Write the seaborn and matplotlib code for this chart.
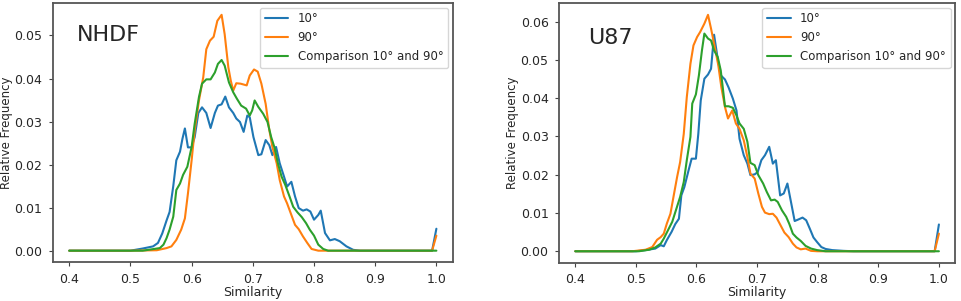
import numpy as np
import pandas as pd
import matplotlib
matplotlib.use("Agg")
import matplotlib.pyplot as plt
import seaborn as sns

# --- data ---
labels = ["10°", "90°", "Comparison 10° and 90°"]
panel_names = ["NHDF", "U87"]

# NHDF
nhdf_10_x = [0.40, 0.50, 0.52, 0.537, 0.545, 0.552, 0.559, 0.564, 0.570, 0.575, 0.581, 0.585, 0.589,
             0.594, 0.600, 0.605, 0.611, 0.617, 0.624, 0.631, 0.638, 0.643, 0.649, 0.655, 0.661,
             0.668, 0.673, 0.679, 0.685, 0.691, 0.695, 0.701, 0.709, 0.714, 0.721, 0.727, 0.732,
             0.738, 0.744, 0.751, 0.756, 0.763, 0.769, 0.775, 0.782, 0.788, 0.794, 0.800, 0.807,
             0.811, 0.818, 0.826, 0.834, 0.842, 0.853, 0.864, 0.875, 0.993, 1.0]
nhdf_10_y = [0.0, 0.0, 0.0005, 0.001, 0.0018, 0.004, 0.007, 0.009, 0.015, 0.021, 0.023, 0.026, 0.0284,
             0.024, 0.024, 0.0264, 0.032, 0.0333, 0.032, 0.0285, 0.032, 0.0337, 0.034, 0.0358, 0.0333,
             0.032, 0.0307, 0.0299, 0.0276, 0.0314, 0.031, 0.0264, 0.0222, 0.0224, 0.0257, 0.0245, 0.0222,
             0.0241, 0.0203, 0.0172, 0.0149, 0.016, 0.0126, 0.0099, 0.0093, 0.0096, 0.0091, 0.0072, 0.0083,
             0.0093, 0.0041, 0.0024, 0.0027, 0.0022, 0.001, 0.0002, 0.0, 0.0, 0.0051]

nhdf_90_x = [0.40, 0.50, 0.543, 0.559, 0.567, 0.575, 0.583, 0.589, 0.594, 0.600, 0.605, 0.612, 0.619,
             0.624, 0.630, 0.636, 0.642, 0.649, 0.654, 0.660, 0.664, 0.668, 0.673, 0.680, 0.690,
             0.695, 0.702, 0.708, 0.714, 0.721, 0.727, 0.732, 0.739, 0.744, 0.751, 0.756, 0.763,
             0.769, 0.775, 0.782, 0.789, 0.796, 0.807, 0.993, 1.0]
nhdf_90_y = [0.0, 0.0, 0.0001, 0.0006, 0.001, 0.0025, 0.0049, 0.0075, 0.0133, 0.021, 0.028, 0.0349, 0.0403,
             0.0468, 0.0488, 0.0497, 0.0534, 0.0548, 0.0503, 0.0426, 0.0395, 0.0372, 0.0389, 0.0388, 0.0384,
             0.0407, 0.0421, 0.0416, 0.0388, 0.0341, 0.028, 0.0241, 0.0203, 0.0164, 0.0126, 0.011, 0.0083,
             0.006, 0.005, 0.0033, 0.0018, 0.0004, 0.0, 0.0, 0.0035]

nhdf_cmp_x = [0.40, 0.52, 0.548, 0.554, 0.559, 0.564, 0.570, 0.575, 0.581, 0.586, 0.593, 0.600, 0.605,
              0.612, 0.617, 0.624, 0.631, 0.638, 0.643, 0.649, 0.654, 0.661, 0.668, 0.674, 0.681,
              0.689, 0.695, 0.699, 0.703, 0.709, 0.717, 0.724, 0.730, 0.736, 0.741, 0.747, 0.753,
              0.760, 0.766, 0.773, 0.780, 0.787, 0.793, 0.800, 0.807, 0.815, 0.823, 1.0]
nhdf_cmp_y = [0.0, 0.0, 0.0006, 0.0014, 0.0029, 0.0049, 0.0079, 0.0141, 0.0156, 0.0176, 0.0195, 0.0241, 0.0295,
              0.0357, 0.0388, 0.0398, 0.0398, 0.0414, 0.0434, 0.0443, 0.043, 0.0391, 0.0368, 0.0353, 0.0337,
              0.033, 0.0314, 0.0326, 0.0349, 0.0334, 0.0318, 0.0299, 0.0264, 0.0237, 0.0203, 0.0172, 0.0153,
              0.0126, 0.0102, 0.0089, 0.0078, 0.0064, 0.0049, 0.0035, 0.0014, 0.0004, 0.0, 0.0]

# U87
u87_10_x = [0.40, 0.50, 0.516, 0.532, 0.541, 0.546, 0.551, 0.559, 0.565, 0.571, 0.575, 0.580, 0.587,
            0.592, 0.599, 0.603, 0.607, 0.613, 0.619, 0.624, 0.629, 0.635, 0.640, 0.647, 0.653,
            0.660, 0.666, 0.671, 0.678, 0.684, 0.689, 0.696, 0.701, 0.707, 0.713, 0.720, 0.726,
            0.731, 0.738, 0.744, 0.750, 0.757, 0.762, 0.768, 0.775, 0.781, 0.787, 0.793, 0.799,
            0.806, 0.813, 0.824, 0.843, 0.859, 0.993, 1.0]
u87_10_y = [0.0, 0.0, 0.0003, 0.0007, 0.0016, 0.0013, 0.0029, 0.0051, 0.0071, 0.0085, 0.0146, 0.0168, 0.0212,
            0.0242, 0.0242, 0.0307, 0.0394, 0.0451, 0.0462, 0.0477, 0.0566, 0.0503, 0.046, 0.0449, 0.0428,
            0.0399, 0.0368, 0.0294, 0.0251, 0.0229, 0.0199, 0.0201, 0.0207, 0.0238, 0.0251, 0.0273, 0.0229,
            0.0238, 0.0146, 0.0151, 0.0177, 0.012, 0.0079, 0.0083, 0.0088, 0.0081, 0.0059, 0.0036, 0.0024,
            0.0011, 0.0006, 0.0003, 0.0001, 0.0, 0.0, 0.007]

u87_90_x = [0.40, 0.494, 0.516, 0.527, 0.535, 0.541, 0.546, 0.551, 0.557, 0.562, 0.568, 0.573, 0.579,
            0.584, 0.590, 0.595, 0.601, 0.606, 0.613, 0.619, 0.624, 0.629, 0.636, 0.641, 0.647,
            0.652, 0.659, 0.665, 0.671, 0.678, 0.684, 0.689, 0.696, 0.702, 0.708, 0.713, 0.720,
            0.726, 0.732, 0.740, 0.745, 0.752, 0.759, 0.765, 0.772, 0.780, 0.789, 0.799, 0.993, 1.0]
u87_90_y = [0.0, 0.0, 0.0004, 0.0011, 0.003, 0.0037, 0.0046, 0.0072, 0.0098, 0.0142, 0.0194, 0.0233, 0.0307,
            0.0403, 0.049, 0.0538, 0.056, 0.0573, 0.0595, 0.0618, 0.0582, 0.0543, 0.0486, 0.0429, 0.0377,
            0.0347, 0.0368, 0.0334, 0.032, 0.029, 0.0246, 0.0203, 0.019, 0.0151, 0.0116, 0.0101, 0.0097,
            0.0098, 0.0088, 0.0064, 0.0049, 0.0037, 0.002, 0.001, 0.0005, 0.0007, 0.0001, 0.0, 0.0, 0.0046]

u87_cmp_x = [0.40, 0.505, 0.522, 0.532, 0.541, 0.546, 0.553, 0.560, 0.566, 0.573, 0.579, 0.584, 0.590,
             0.593, 0.599, 0.604, 0.609, 0.613, 0.619, 0.624, 0.629, 0.635, 0.640, 0.647, 0.653,
             0.660, 0.666, 0.671, 0.678, 0.684, 0.689, 0.696, 0.702, 0.710, 0.716, 0.723, 0.729,
             0.734, 0.741, 0.748, 0.753, 0.759, 0.765, 0.772, 0.780, 0.789, 0.799, 0.813, 1.0]
u87_cmp_y = [0.0, 0.0, 0.0004, 0.001, 0.002, 0.0033, 0.0055, 0.0077, 0.0107, 0.0142, 0.0181, 0.0238, 0.0299,
             0.0386, 0.041, 0.046, 0.0525, 0.0569, 0.0556, 0.0551, 0.0525, 0.0508, 0.0473, 0.0379, 0.0379,
             0.0375, 0.0355, 0.0334, 0.032, 0.0286, 0.0231, 0.0225, 0.0199, 0.0177, 0.0155, 0.0133, 0.0135,
             0.0129, 0.0107, 0.009, 0.0072, 0.0046, 0.0036, 0.0027, 0.0014, 0.0007, 0.0003, 0.0, 0.0]

panels = [
    [(nhdf_10_x, nhdf_10_y), (nhdf_90_x, nhdf_90_y), (nhdf_cmp_x, nhdf_cmp_y)],
    [(u87_10_x, u87_10_y), (u87_90_x, u87_90_y), (u87_cmp_x, u87_cmp_y)],
]

sns.set_style("ticks")
plt.rcParams['font.family'] = ['DejaVu Sans']

fig = plt.figure(figsize=(9.62, 3.01), dpi=100)
axes = [fig.add_axes([0.0548, 0.128, 0.416, 0.862]),
        fig.add_axes([0.581, 0.126, 0.412, 0.864])]
colors = ['#1f77b4', '#ff7f0e', '#2ca02c']
name_pos = [(0.06, 0.915), (0.074, 0.905)]

for ax, series, name, pos in zip(axes, panels, panel_names, name_pos):
    frames = []
    for lab, (xs, ys) in zip(labels, series):
        frames.append(pd.DataFrame({'Similarity': xs, 'Relative Frequency': ys, 'kind': lab}))
    df = pd.concat(frames, ignore_index=True)
    sns.lineplot(data=df, x='Similarity', y='Relative Frequency', hue='kind',
                 palette=colors, estimator=None, linewidth=1.5, ax=ax)
    ax.set_xlim(0.373, 1.027)
    ax.set_xticks([0.4, 0.5, 0.6, 0.7, 0.8, 0.9, 1.0])
    ax.set_xlabel('Similarity', fontsize=9, labelpad=0)
    ax.set_ylabel('Relative Frequency', fontsize=8.5, labelpad=1)
    ax.tick_params(labelsize=9, length=3, pad=4.5, color='#444444')
    for sp in ax.spines.values():
        sp.set_visible(True)
        sp.set_color('#555555')
        sp.set_linewidth(1.3)
    leg = ax.legend(loc='upper right', fontsize=8.5, frameon=True, fancybox=True,
                    borderaxespad=0.4, handlelength=2.0)
    leg.get_frame().set_edgecolor('#cccccc')
    ax.text(pos[0], pos[1], name, transform=ax.transAxes, fontsize=16, va='top', ha='left')

fig.savefig('out.png', dpi=100)
